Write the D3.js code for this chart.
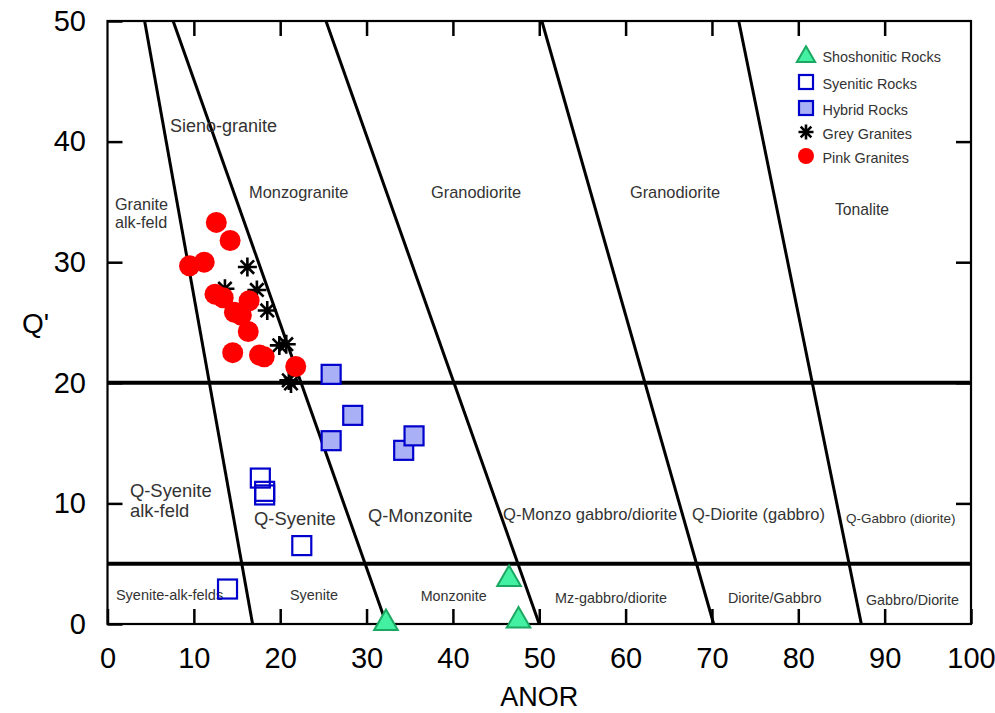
<!DOCTYPE html>
<html>
<head>
<meta charset="utf-8">
<script src="https://cdn.jsdelivr.net/npm/d3@7"></script>
<style>
  html, body { margin: 0; padding: 0; background: #fff; }
  svg { display: block; font-family: "Liberation Sans", Arial, Helvetica, sans-serif; }
</style>
</head>
<body>
<svg id="chart" width="995" height="713"></svg>
<script>
// ANOR vs Q' classification (Streckeisen & Le Maitre)

const xTicks = [0, 10, 20, 30, 40, 50, 60, 70, 80, 90, 100];
const yTicks = [0, 10, 20, 30, 40, 50];

// Field boundaries: ANOR value where each line meets Q'=50 and Q'=0
const boundaryTop    = [4.3, 7.6, 25.3, 50.3, 73.1];
const boundaryBottom = [16.8, 32.3, 50.0, 70.2, 87.3];
const horizontalQ    = [20, 5];

// Samples [ANOR, Q']
const shoshonitic = [[32.25, 0.25], [46.5, 3.9], [47.6, 0.45]];
const syenitic = [[17.7, 12.1], [18.2, 11.0], [18.2, 10.7], [22.5, 6.5], [13.9, 2.9]];
const hybrid = [[25.9, 20.7], [28.4, 17.3], [25.9, 15.2], [34.3, 14.4], [35.5, 15.6]];
const greyGranites = [[13.6, 27.8], [16.2, 29.6], [17.3, 27.7], [18.5, 26.0], [19.9, 23.1],
                      [20.7, 23.2], [21.0, 20.2], [21.25, 19.95]];
const pinkGranites = [[12.6, 33.3], [14.2, 31.8], [9.5, 29.7], [11.2, 30.0], [12.45, 27.35],
                      [13.4, 27.05], [14.7, 25.85], [15.5, 25.6], [16.4, 26.8], [16.3, 24.25],
                      [14.5, 22.5], [17.6, 22.3], [18.15, 22.15], [21.8, 21.35]];

// Field names
const regionNames = ["Sieno-granite", "Granite", "alk-feld", "Monzogranite", "Granodiorite",
  "Granodiorite", "Tonalite", "Q-Syenite", "alk-feld", "Q-Syenite", "Q-Monzonite",
  "Q-Monzo gabbro/diorite", "Q-Diorite (gabbro)", "Q-Gabbro (diorite)", "Syenite-alk-felds",
  "Syenite", "Monzonite", "Mz-gabbro/diorite", "Diorite/Gabbro", "Gabbro/Diorite"];
// anchor of each name in data units [ANOR, Q'] and font size
const regionAnchor = [[7.24, 40.82], [0.87, 34.33], [0.87, 32.84], [16.39, 35.32], [37.46, 35.32],
  [60.5, 35.32], [84.25, 33.91], [2.6, 10.53], [2.6, 8.87], [16.97, 8.21], [30.17, 8.46],
  [45.8, 8.62], [67.69, 8.62], [85.52, 8.37], [0.98, 1.99], [21.13, 1.99], [36.27, 1.93],
  [51.82, 1.74], [71.85, 1.74], [87.84, 1.58]];
const regionSize = [18, 16.2, 16.2, 16.4, 16.4, 16.4, 15.7, 18.4, 18.4, 18.4, 18.3,
  16.6, 16.5, 13.5, 14.5, 14.4, 14.3, 14.4, 14.4, 14.3];

const legendNames = ["Shoshonitic Rocks", "Syenitic Rocks", "Hybrid Rocks", "Grey Granites", "Pink Granites"];

const svg = d3.select("#chart");
const plotL = 107.5, plotR = 971, plotT = 21, plotB = 624;
const x = d3.scaleLinear().domain([0, 100]).range([plotL, plotR]);
const y = d3.scaleLinear().domain([0, 50]).range([plotB, plotT]);

// Axes with inward ticks
const tickLen = 15;
svg.append("g").attr("transform", `translate(0,${plotB})`)
  .call(d3.axisBottom(x).tickValues(xTicks).tickSizeInner(-tickLen).tickSizeOuter(0).tickPadding(23).tickFormat(d3.format("d")));
svg.append("g").attr("transform", `translate(0,${plotT})`)
  .call(d3.axisTop(x).tickValues(xTicks.slice(1, -1)).tickSizeInner(-tickLen).tickSizeOuter(0).tickFormat(""));
svg.append("g").attr("transform", `translate(${plotL},0)`)
  .call(d3.axisLeft(y).tickValues(yTicks).tickSizeInner(-tickLen).tickSizeOuter(0).tickPadding(21.5).tickFormat(d3.format("d")));
svg.append("g").attr("transform", `translate(${plotR},0)`)
  .call(d3.axisRight(y).tickValues(yTicks.slice(1, -1)).tickSizeInner(-tickLen).tickSizeOuter(0).tickFormat(""));

svg.selectAll(".domain").remove();
svg.selectAll(".tick line").attr("stroke", "#000").attr("stroke-width", 2.5);
svg.selectAll(".tick text").attr("fill", "#000").attr("font-size", 29)
  .attr("font-family", "'Liberation Sans', Arial, sans-serif");

// Axis titles
svg.append("text").attr("x", (plotL + plotR) / 2).attr("y", 706).attr("text-anchor", "middle")
  .attr("font-size", 27).attr("fill", "#000").text("ANOR");
svg.append("text").attr("x", 22).attr("y", 333).attr("text-anchor", "start")
  .attr("font-size", 28).attr("fill", "#000").text("Q'");

// Field boundaries
const lines = svg.append("g").attr("stroke", "#000").attr("fill", "none");
boundaryTop.forEach((t, i) => {
  lines.append("line")
    .attr("x1", x(t)).attr("y1", y(50))
    .attr("x2", x(boundaryBottom[i])).attr("y2", y(0))
    .attr("stroke-width", 3);
});
horizontalQ.forEach(q => {
  lines.append("line")
    .attr("x1", x(0)).attr("x2", x(100))
    .attr("y1", y(q)).attr("y2", y(q))
    .attr("stroke-width", 4);
});

// Frame
svg.append("rect").attr("x", plotL).attr("y", plotT).attr("width", plotR - plotL).attr("height", plotB - plotT)
  .attr("fill", "none").attr("stroke", "#000").attr("stroke-width", 2.2);

// Field names
svg.append("g").selectAll("text").data(regionNames).join("text")
  .attr("x", (d, i) => x(regionAnchor[i][0]))
  .attr("y", (d, i) => y(regionAnchor[i][1]))
  .attr("font-size", (d, i) => regionSize[i])
  .attr("fill", "#333")
  .text(d => d);

// Marker makers
function drawTriangle(g, cx, cy, scale) {
  const s = scale || 1;
  g.append("path").attr("d", d3.symbol().type(d3.symbolTriangle).size(200 * s * s)())
    .attr("transform", `translate(${cx},${cy + 2 * s})`)
    .attr("fill", "#44f0a2").attr("stroke", "#1da862").attr("stroke-width", 2);
}
function drawSquare(g, cx, cy, half, fill) {
  g.append("rect").attr("x", cx - half).attr("y", cy - half)
    .attr("width", 2 * half).attr("height", 2 * half)
    .attr("fill", fill).attr("stroke", "#0000cc").attr("stroke-width", 2.2);
}
function drawStar(g, cx, cy, r) {
  const d = r * Math.SQRT1_2;
  const p = `M${cx - r},${cy}L${cx + r},${cy}M${cx},${cy - r}L${cx},${cy + r}` +
            `M${cx - d},${cy - d}L${cx + d},${cy + d}M${cx - d},${cy + d}L${cx + d},${cy - d}`;
  g.append("path").attr("d", p).attr("stroke", "#000").attr("stroke-width", 2.6).attr("fill", "none");
}
function drawCircle(g, cx, cy, r) {
  g.append("circle").attr("cx", cx).attr("cy", cy).attr("r", r).attr("fill", "#ff0000");
}

// Samples, in series order
const pts = svg.append("g");
shoshonitic.forEach(d => drawTriangle(pts, x(d[0]), y(d[1]), 1.1));
syenitic.forEach(d => drawSquare(pts, x(d[0]), y(d[1]), 9.5, "none"));
hybrid.forEach(d => drawSquare(pts, x(d[0]), y(d[1]), 9.5, "#aab0f6"));
greyGranites.forEach(d => drawStar(pts, x(d[0]), y(d[1]), 9.5));
pinkGranites.forEach(d => drawCircle(pts, x(d[0]), y(d[1]), 10.5));

// Legend
const leg = svg.append("g");
const legY = [55, 82, 108, 132, 156];
const legMarkerX = 806;
drawTriangle(leg, legMarkerX, legY[0], 0.85);
drawSquare(leg, legMarkerX, legY[1], 7, "#fff");
drawSquare(leg, legMarkerX, legY[2], 7, "#aab0f6");
drawStar(leg, legMarkerX, legY[3], 7.5);
drawCircle(leg, legMarkerX, legY[4], 8);
leg.selectAll("text").data(legendNames).join("text")
  .attr("x", 822.5)
  .attr("y", (d, i) => legY[i] + 6.5)
  .attr("font-size", 14.4)
  .attr("fill", "#333")
  .text(d => d);
</script>
</body>
</html>
